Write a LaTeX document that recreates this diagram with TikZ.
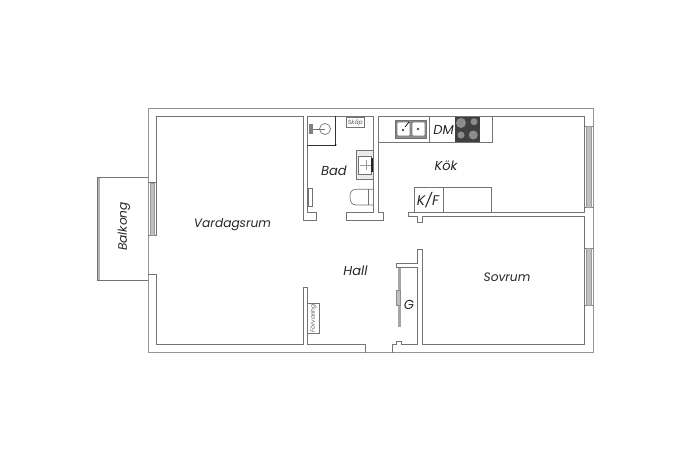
\documentclass[tikz,border=0pt]{standalone}
\usepackage{fontspec}
\setmainfont{Poppins}
\tikzset{
	wall/.style={line width=0.9pt, color=black!55},
	outerwall/.style={line width=1pt, color=black!42},
	fixture/.style={line width=0.7pt, color=black!55},
	glass/.style={draw=black!40, line width=0.5pt, fill=black!25},
	roomname/.style={font=\itshape\fontsize{13}{13}\selectfont, color=black!85},
	longname/.style={font=\itshape\fontsize{12.2}{12.2}\selectfont, color=black!85},
}
\begin{document}
\begin{tikzpicture}[x=1pt, y=-1pt]
		\useasboundingbox (0, 0) rectangle (690, 460);
		
		% outer walls
		\draw[outerwall] (148, 108) rectangle (593, 352.5);
		
		% balcony
		\fill[black!30] (97, 177) rectangle (100, 280);
		\draw[wall] (148, 177) -- (97, 177) -- (97, 280) -- (148, 280);
		
		% living room
		\draw[wall] (156.5, 182.5) -- (156.5, 116) -- (303.3, 116) -- (303.3, 220) -- (316, 220) -- (316, 212.5) -- (307.3, 212.5) -- (307.3, 116) -- (373, 116) -- (373, 212.5) -- (346, 212.5) -- (346, 220) -- (383, 220) -- (383, 212.3) -- (378, 212.3) -- (378, 116) -- (584.5, 116) -- (584.5, 212.3) -- (408, 212.3) -- (408, 216.7) -- (417.5, 216.7) -- (417.5, 222.5) -- (422, 222.5) -- (422, 216.7) -- (584.5, 216.7) -- (584.5, 344) -- (422, 344) -- (422, 249) -- (417.3, 249) -- (417.3, 263) -- (396.3, 263) -- (396.3, 267.5) -- (417.3, 267.5) -- (417.3, 344) -- (401, 344) -- (401, 341.5) -- (396, 341.5) -- (396, 344) -- (392.3, 344) -- (392.3, 352.5);
		\draw[wall] (365, 352.5) -- (365, 344) -- (307.3, 344) -- (307.3, 287.7) -- (303.3, 287.7) -- (303.3, 344) -- (156.5, 344) -- (156.5, 274.5) -- (148, 274.5);
		\draw[wall] (148, 235) -- (156.5, 235) -- (156.5, 182.5) -- (148, 182.5);
		
		% windows
		\draw[glass] (150, 183) rectangle (154.5, 235);
		\draw[wall] (584.5, 126) -- (593, 126);
		\draw[wall] (584.5, 207) -- (593, 207);
		\draw[glass] (586.7, 126) rectangle (591.3, 207);
		\draw[wall] (584.5, 248) -- (593, 248);
		\draw[wall] (584.5, 305) -- (593, 305);
		\draw[glass] (586.7, 248) rectangle (591.3, 305);
		
		% kitchen
		\draw[fixture] (378, 142.3) -- (492, 142.3) -- (492, 116);
		\draw[fixture] (429.3, 116) -- (429.3, 142.3);
		\draw[fixture, fill=black!45] (395, 120) rectangle (426.7, 138);
		\draw[fixture, fill=white, rounded corners=1pt] (397, 122) rectangle (410, 136);
		\draw[fixture, fill=white, rounded corners=1pt] (412, 122) rectangle (425, 136);
		\fill[black!70] (403, 130) circle (1.3);
		\fill[black!70] (418, 129) circle (1.3);
		\draw[line width=0.7pt, color=black] (405, 127) -- (409, 122);
		\fill[black!75] (455, 117) rectangle (480, 141.7);
		\fill[black!45] (461, 123) circle (5);
		\fill[black!45] (474, 121.7) circle (3.5);
		\fill[black!45] (461, 135) circle (3.5);
		\fill[black!45] (473.3, 135) circle (4.5);
		\draw[fixture] (414, 212.3) -- (414, 187) -- (491.7, 187) -- (491.7, 212.3);
		\draw[fixture] (443, 187) -- (443, 212.3);
		
		% bathroom
		\draw[line width=0.7pt, color=black!80] (307.3, 145) -- (335.7, 145) -- (335.7, 116);
		\fill[black] (335.7, 145) circle (0.9);
		\draw[fixture] (325, 129) circle (5.5);
		\draw[fixture] (312, 129) -- (325, 129);
		\fill[black!50] (309, 124) rectangle (313, 134);
		\draw[fixture] (346.7, 117.3) rectangle (364, 127.3);
		\node[font=\itshape\fontsize{6}{6}\selectfont, color=black!65] (skap) at (355.3, 122.5) {Skåp};
		\draw[fixture, fill=black!8] (356.7, 150) rectangle (373, 179);
		\draw[fixture, fill=white] (358.7, 156.7) rectangle (371.7, 174);
		\fill[black!85] (371, 158) rectangle (373, 172);
		\draw[line width=0.5pt, color=black!40] (366, 160) -- (366, 170);
		\draw[line width=0.5pt, color=black!40] (360, 165) -- (371, 165);
		\draw[fixture] (373, 189.3) -- (356, 189.3) .. controls (351, 189.3) and (350, 193) .. (350, 197) .. controls (350, 202) and (352, 205) .. (356, 205) -- (373, 205);
		\draw[fixture] (368, 189.3) -- (368, 205);
		\draw[fixture] (308.3, 188) rectangle (312.7, 206.7);
		\draw[fixture] (307.3, 303.3) rectangle (319.3, 333.3);
		\node[rotate=90, font=\itshape\fontsize{6}{6}\selectfont, color=black!65] (forvaring) at (313.3, 318.3) {Förvaring};
		
		% closet door
		\fill[black!35] (398.3, 268) rectangle (400.7, 327);
		\draw[line width=0.5pt, color=black!45, fill=black!25] (396.7, 290) rectangle (400.7, 305);
		
		% room names
		\node[longname] (vardagsrum) at (232.5, 225) {Vardagsrum};
		\node[roomname] (bad) at (334, 171) {Bad};
		\node[roomname] (kok) at (446, 165.5) {Kök};
		\node[roomname, font=\itshape\fontsize{14}{14}\selectfont] (kf) at (428, 200.5) {K/F};
		\node[roomname] (dm) at (443.5, 130) {DM};
		\node[roomname] (hall) at (355.5, 271) {Hall};
		\node[roomname] (g) at (409, 304.5) {G};
		\node[longname] (sovrum) at (507, 277) {Sovrum};
		\node[longname, rotate=90] (balkong) at (124, 226.5) {Balkong};
	\end{tikzpicture}
\end{document}
